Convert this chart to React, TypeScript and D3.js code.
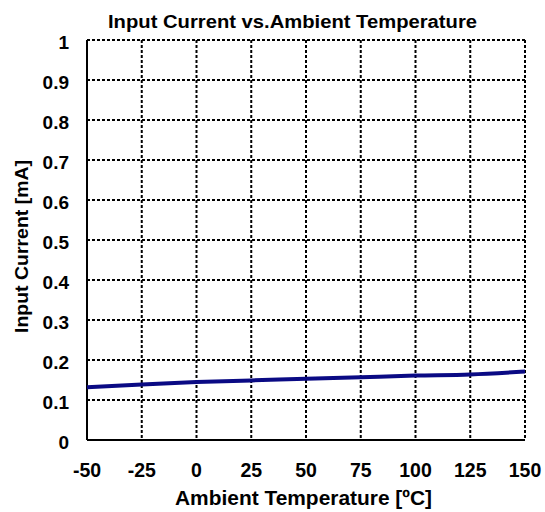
import React from "react";
import * as d3 from "d3";

const temps = [-50, -25, 0, 25, 50, 75, 100, 125, 150];
const current = [0.132, 0.139, 0.145, 0.149, 0.153, 0.157, 0.161, 0.164, 0.171];
const xTicks = [-50, -25, 0, 25, 50, 75, 100, 125, 150];
const yTicks = [0, 0.1, 0.2, 0.3, 0.4, 0.5, 0.6, 0.7, 0.8, 0.9, 1];
const title = "Input Current vs.Ambient Temperature";
const xTitle = "Ambient Temperature [ºC]";
const yTitle = "Input Current [mA]";

export default function App() {
  const W = 545, H = 512;
  const L = 87, R = 525, T = 40, B = 440;
  const x = d3.scaleLinear().domain([-50, 150]).range([L, R]);
  const y = d3.scaleLinear().domain([0, 1]).range([B, T]);
  const line = d3.line<number>().x((_, i) => x(temps[i])).y((d) => y(d)).curve(d3.curveMonotoneX);
  const font = "'Liberation Sans', Arial, sans-serif";
  return (
    <svg width={W} height={H} style={{ position: "absolute", left: 0, top: 0, background: "#fff" }} fontFamily={font} fontWeight="bold">
      <rect x={0} y={0} width={W} height={H} fill="#fff" />
      {yTicks.slice(1).map((t) => (
        <line key={"gy" + t} x1={L} x2={R} y1={y(t)} y2={y(t)} stroke="#000" strokeWidth={2} strokeDasharray="3,2" />
      ))}
      {xTicks.slice(1).map((t) => (
        <line key={"gx" + t} x1={x(t)} x2={x(t)} y1={T} y2={B} stroke="#000" strokeWidth={2} strokeDasharray="3,2" />
      ))}
      <line x1={L} x2={L} y1={T} y2={B} stroke="#000" strokeWidth={2} />
      <line x1={L} x2={R} y1={B} y2={B} stroke="#000" strokeWidth={2} />
      <path d={line(current) || ""} fill="none" stroke="#0a0a84" strokeWidth={4} />
      {yTicks.map((t) => (
        <text key={"ty" + t} x={69} y={y(t) + 8.5} textAnchor="end" fontSize={19}>
          {d3.format("~g")(t)}
        </text>
      ))}
      {xTicks.map((t) => (
        <text key={"tx" + t} x={x(t)} y={477} textAnchor="middle" fontSize={19.5}>
          {t}
        </text>
      ))}
      <text x={292.5} y={28} textAnchor="middle" fontSize={18} textLength={369} lengthAdjust="spacingAndGlyphs">{title}</text>
      <text x={303.5} y={505} textAnchor="middle" fontSize={20} textLength={257} lengthAdjust="spacingAndGlyphs">{xTitle}</text>
      <text transform={`translate(28,246.5) rotate(-90)`} textAnchor="middle" fontSize={19} textLength={173} lengthAdjust="spacingAndGlyphs">{yTitle}</text>
    </svg>
  );
}
